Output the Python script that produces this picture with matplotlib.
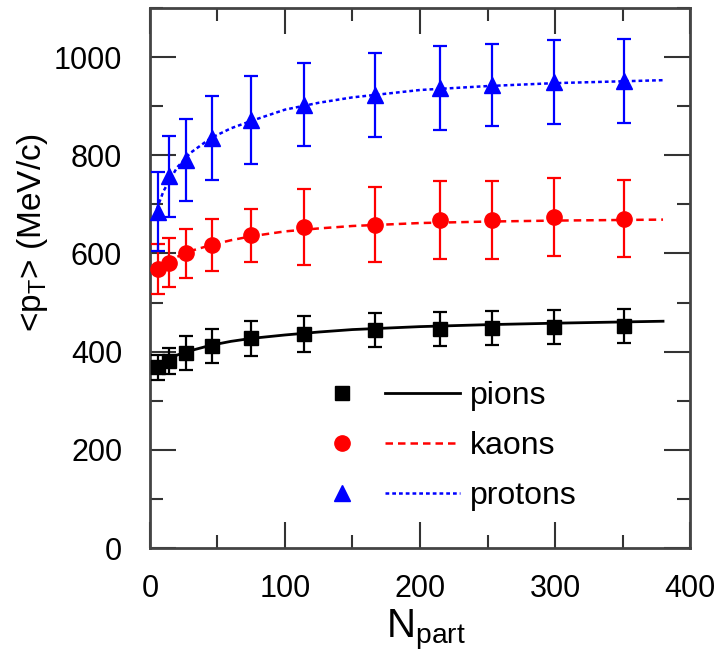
import matplotlib
matplotlib.use("Agg")
import matplotlib.pyplot as plt
from matplotlib.lines import Line2D
from matplotlib.legend_handler import HandlerTuple
from matplotlib.ticker import MultipleLocator

plt.rcParams['font.family'] = ['Liberation Sans', 'DejaVu Sans']
plt.rcParams['mathtext.fontset'] = 'custom'
plt.rcParams['mathtext.rm'] = 'Liberation Sans'
plt.rcParams['mathtext.it'] = 'Liberation Sans'

# mean pT per centrality bin
npart = [6, 14, 27, 46, 75, 114, 167, 215, 253, 299, 351]
pion_mean = [368, 381, 397, 411, 427, 436, 444, 446, 448, 450, 452]
pion_err = [26, 27, 35, 35, 36, 37, 35, 35, 34, 34, 34]
kaon_mean = [569, 581, 600, 618, 637, 654, 659, 668, 668, 674, 671]
kaon_err = [51, 50, 50, 53, 54, 78, 77, 79, 79, 79, 78]
proton_mean = [685, 757, 790, 835, 872, 903, 923, 937, 943, 949, 951]
proton_err = [80, 83, 83, 86, 89, 85, 85, 85, 84, 85, 86]

# fitted curves
fit_npart = [5, 10, 20, 30, 45, 60, 75, 100, 125, 150, 200, 250, 300, 380]
pion_fit = [366, 377, 393, 402, 413, 421, 427, 434, 440, 445, 451, 455, 458, 462]
kaon_fit = [565, 577, 593, 605, 617, 627, 635, 645, 651, 656, 662, 665, 667, 669]
proton_fit = [690, 727, 775, 805, 835, 855, 870, 893, 907, 918, 933, 941, 947, 953]

labels = ['pions', 'kaons', 'protons']

fig = plt.figure(figsize=(7.19, 6.68), dpi=100)
ax = fig.add_axes([0.2086, 0.1796, 0.7511, 0.8084])

series = [
    (pion_mean, pion_err, pion_fit, 'black', 's', 9.5, '-', 2.0),
    (kaon_mean, kaon_err, kaon_fit, '#ff0000', 'o', 11, (0, (3, 2)), 1.8),
    (proton_mean, proton_err, proton_fit, '#0000ff', '^', 11.5, (0, (1.5, 1.2)), 1.8),
]

handles = []
for mean, err, fit, col, mk, ms, ls, lw in series:
    ax.plot(fit_npart, fit, color=col, linestyle=ls, linewidth=lw, zorder=2)
    ax.errorbar(npart, mean, yerr=err, fmt=mk, color=col, markersize=ms,
                elinewidth=1.6, capsize=5, capthick=1.6, zorder=3)
    m = Line2D([], [], linestyle='none', marker=mk, color=col, markersize=ms)
    ln = Line2D([], [], linestyle=ls, color=col, linewidth=lw)
    handles.append((m, ln))

ax.set_xlim(0, 400)
ax.set_ylim(0, 1100)
ax.xaxis.set_major_locator(MultipleLocator(100))
ax.xaxis.set_minor_locator(MultipleLocator(50))
ax.yaxis.set_major_locator(MultipleLocator(200))
ax.yaxis.set_minor_locator(MultipleLocator(100))

for sp in ax.spines.values():
    sp.set_linewidth(2.0)
    sp.set_color('#444444')
ax.tick_params(which='both', direction='in', top=True, right=True,
               color='#333333', width=1.5, labelsize=22)
ax.tick_params(which='major', length=19)
ax.tick_params(which='minor', length=9.5)
ax.tick_params(axis='x', pad=19)
ax.tick_params(axis='y', pad=20)

ax.set_xlabel(r'N$_\mathregular{part}$', fontsize=29)
ax.xaxis.set_label_coords(0.51, -0.11)
ax.set_ylabel(r'<p$_\mathregular{T}$> (MeV/c)', fontsize=24)
ax.yaxis.set_label_coords(-0.185, 0.585)

ax.legend(handles, labels, handler_map={tuple: HandlerTuple(ndivide=None, pad=0.17)},
          loc='center left', bbox_to_anchor=(0.286, 0.1885), frameon=False,
          fontsize=23, handlelength=4.86, handletextpad=0.31, labelspacing=0.63,
          borderpad=0, borderaxespad=0)

fig.savefig('out.png', dpi=100)
